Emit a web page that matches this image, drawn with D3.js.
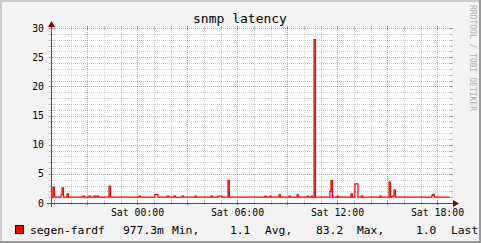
<!DOCTYPE html>
<html>
<head>
<meta charset="utf-8">
<script src="https://cdn.jsdelivr.net/npm/d3@7"></script>
<style>
  html, body { margin: 0; padding: 0; background: #f3f3f3; }
  svg { display: block; }
  text { font-family: "DejaVu Sans Mono", monospace; }
</style>
</head>
<body>
<svg id="chart" width="481" height="243"></svg>
<script>
// step data: value holds from each time until the next one
var stepTimes = [
  "2024-01-05 18:49", "2024-01-05 18:56", "2024-01-05 19:01", "2024-01-05 19:25",
  "2024-01-05 19:29", "2024-01-05 19:34", "2024-01-05 19:47", "2024-01-05 19:52",
  "2024-01-05 20:44", "2024-01-05 20:49", "2024-01-05 21:06", "2024-01-05 21:11",
  "2024-01-05 21:24", "2024-01-05 21:29", "2024-01-05 21:35", "2024-01-05 21:40",
  "2024-01-05 22:18", "2024-01-05 22:23", "2024-01-06 00:06", "2024-01-06 00:11",
  "2024-01-06 01:03", "2024-01-06 01:14", "2024-01-06 01:47", "2024-01-06 01:52",
  "2024-01-06 02:12", "2024-01-06 02:17", "2024-01-06 02:41", "2024-01-06 02:46",
  "2024-01-06 03:27", "2024-01-06 03:32", "2024-01-06 04:25", "2024-01-06 04:30",
  "2024-01-06 04:50", "2024-01-06 05:05", "2024-01-06 05:26", "2024-01-06 05:31",
  "2024-01-06 07:39", "2024-01-06 07:44", "2024-01-06 07:57", "2024-01-06 08:02",
  "2024-01-06 08:30", "2024-01-06 08:35", "2024-01-06 09:06", "2024-01-06 09:11",
  "2024-01-06 09:35", "2024-01-06 09:40", "2024-01-06 10:11", "2024-01-06 10:16",
  "2024-01-06 10:25", "2024-01-06 10:30", "2024-01-06 10:36", "2024-01-06 10:41",
  "2024-01-06 11:33", "2024-01-06 11:37", "2024-01-06 11:42", "2024-01-06 11:59",
  "2024-01-06 12:04", "2024-01-06 12:49", "2024-01-06 12:54", "2024-01-06 13:03",
  "2024-01-06 13:14", "2024-01-06 13:26", "2024-01-06 13:31", "2024-01-06 14:33",
  "2024-01-06 14:38", "2024-01-06 15:06", "2024-01-06 15:11", "2024-01-06 15:17",
  "2024-01-06 15:24", "2024-01-06 15:29", "2024-01-06 17:40", "2024-01-06 17:44",
  "2024-01-06 17:49", "2024-01-06 18:45"
];
var stepValues = [
  1.0, 2.7, 1.0, 1.5,
  2.6, 1.0, 1.55, 1.0,
  1.2, 1.0, 1.2, 1.0,
  1.2, 1.0, 1.2, 1.0,
  2.9, 1.0, 1.2, 1.0,
  1.5, 1.0, 1.2, 1.0,
  1.2, 1.0, 1.2, 1.0,
  1.2, 1.0, 1.2, 1.0,
  1.2, 1.0, 3.9, 1.0,
  1.2, 1.0, 1.2, 1.0,
  1.4, 1.0, 1.2, 1.0,
  1.4, 1.0, 1.2, 1.0,
  1.2, 1.0, 28.0, 1.0,
  2.0, 3.9, 1.0, 1.2,
  1.0, 1.55, 1.0, 3.3,
  1.0, 1.2, 1.0, 1.2,
  1.0, 3.6, 1.0, 1.2,
  2.2, 1.0, 1.3, 1.5,
  1.0, 1.0
];
var timeRange = ["2024-01-05 18:49", "2024-01-06 18:49"];
var valueRange = [0, 30];

var chartTitle = "snmp latency";
var seriesName = "segen-fardf";
var seriesColor = "#ff0000";
var legendParts = [
  { text: seriesName, x: 30 },
  { text: "977.3m", x: 123 },
  { text: "Min,", x: 172 },
  { text: "1.1", x: 230 },
  { text: "Avg,", x: 265 },
  { text: "83.2", x: 316 },
  { text: "Max,", x: 357 },
  { text: "1.0", x: 416 },
  { text: "Last", x: 451 }
];
var watermark = "RRDTOOL / TOBI OETIKER";

(function () {
  var W = 481, H = 243;
  var pLeft = 51, pRight = 451, pTop = 28, pBottom = 203;

  var parse = d3.timeParse("%Y-%m-%d %H:%M");
  var svg = d3.select("#chart");

  var x = d3.scaleTime().domain(timeRange.map(parse)).range([pLeft, pRight]);
  var y = d3.scaleLinear().domain(valueRange).range([pBottom, pTop]);

  // background + rrdtool style frame
  svg.append("rect").attr("width", W).attr("height", H).attr("fill", "#f3f3f3");
  svg.append("path").attr("d", "M0,0H" + W + "V2H2V" + H + "H0Z").attr("fill", "#cbcbcb");
  svg.append("path").attr("d", "M" + W + ",0V" + H + "H0V" + (H - 2) + "H" + (W - 2) + "V0Z").attr("fill", "#999999");

  // canvas
  svg.append("rect")
    .attr("x", pLeft).attr("y", pTop)
    .attr("width", pRight - pLeft).attr("height", pBottom - pTop)
    .attr("fill", "#ffffff");

  var grid = svg.append("g").attr("shape-rendering", "crispEdges");
  var minorCol = "rgba(140,140,140,0.42)", majorCol = "rgba(150,30,30,0.42)";

  // horizontal grid
  var yMinor = y.ticks(30), yMajor = y.ticks(6);
  yMinor.forEach(function (v) {
    var major = yMajor.indexOf(v) >= 0;
    var col = major ? majorCol : minorCol;
    var py = Math.round(y(v)) + 0.5;
    grid.append("line")
      .attr("x1", pLeft - 2).attr("x2", pRight + 2).attr("y1", py).attr("y2", py)
      .attr("stroke", col).attr("stroke-dasharray", "1,1");
    grid.append("line")
      .attr("x1", pLeft - 2).attr("x2", pLeft + 2).attr("y1", py).attr("y2", py)
      .attr("stroke", col);
    grid.append("line")
      .attr("x1", pRight - 2).attr("x2", pRight + 2).attr("y1", py).attr("y2", py)
      .attr("stroke", col);
  });

  // vertical grid
  var xMinor = x.ticks(d3.timeHour.every(1));
  var xMajor = x.ticks(d3.timeHour.every(3)).map(Number);
  xMinor.forEach(function (t) {
    var major = xMajor.indexOf(+t) >= 0;
    var col = major ? majorCol : minorCol;
    var px = Math.round(x(t)) + 0.5;
    grid.append("line")
      .attr("x1", px).attr("x2", px).attr("y1", pTop - 2).attr("y2", pBottom + 2)
      .attr("stroke", col).attr("stroke-dasharray", "1,1");
    grid.append("line")
      .attr("x1", px).attr("x2", px).attr("y1", pBottom - 2).attr("y2", pBottom + 2)
      .attr("stroke", col);
    grid.append("line")
      .attr("x1", px).attr("x2", px).attr("y1", pTop - 2).attr("y2", pTop + 2)
      .attr("stroke", col);
  });

  // y labels
  svg.append("g").selectAll("text")
    .data(yMajor)
    .enter().append("text")
    .attr("x", 44)
    .attr("y", function (d) { return y(d) + 3.5; })
    .attr("text-anchor", "end")
    .attr("font-size", "9.8px")
    .attr("fill", "#000")
    .text(function (d) { return d; });

  // x labels
  var fmt = d3.timeFormat("%a %H:%M");
  svg.append("g").selectAll("text")
    .data(x.ticks(d3.timeHour.every(6)))
    .enter().append("text")
    .attr("x", function (d) { return Math.round(x(d)) + 0.5; })
    .attr("y", 216)
    .attr("text-anchor", "middle")
    .attr("font-size", "9.8px")
    .attr("fill", "#000")
    .text(fmt);

  // data line
  var pts = stepTimes.map(function (s, i) { return [parse(s), stepValues[i]]; });
  var line = d3.line()
    .x(function (d) { return x(d[0]); })
    .y(function (d) { return y(d[1]); })
    .curve(d3.curveStepAfter);
  svg.append("path")
    .datum(pts)
    .attr("d", line)
    .attr("fill", "none")
    .attr("stroke", seriesColor)
    .attr("stroke-width", 1.25);

  // axes with arrows
  var axisCol = "#5a4a4a", arrowCol = "#7f0000";
  svg.append("line")
    .attr("x1", pLeft + 0.5).attr("x2", pLeft + 0.5)
    .attr("y1", pBottom + 4).attr("y2", pTop - 4)
    .attr("stroke", axisCol).attr("shape-rendering", "crispEdges");
  svg.append("line")
    .attr("x1", pLeft - 4).attr("x2", pRight + 4)
    .attr("y1", pBottom + 0.5).attr("y2", pBottom + 0.5)
    .attr("stroke", axisCol).attr("shape-rendering", "crispEdges");
  svg.append("path")
    .attr("d", "M" + (pLeft - 3) + "," + (pTop - 1) + "L" + (pLeft + 0.5) + "," + (pTop - 7) + "L" + (pLeft + 4) + "," + (pTop - 1) + "Z")
    .attr("fill", arrowCol);
  svg.append("path")
    .attr("d", "M" + (pRight + 2) + "," + (pBottom - 3) + "L" + (pRight + 8) + "," + (pBottom + 0.5) + "L" + (pRight + 2) + "," + (pBottom + 4) + "Z")
    .attr("fill", arrowCol);

  // title
  svg.append("text")
    .attr("x", 240).attr("y", 23)
    .attr("text-anchor", "middle")
    .attr("font-size", "13px")
    .attr("fill", "#000")
    .text(chartTitle);

  // watermark
  svg.append("text")
    .attr("transform", "translate(470,5) rotate(90)")
    .attr("font-size", "8px")
    .attr("fill", "#b0b0b0")
    .text(watermark);

  // legend
  svg.append("rect")
    .attr("x", 15.5).attr("y", 225.5).attr("width", 8).attr("height", 8)
    .attr("fill", seriesColor).attr("stroke", "#000");
  svg.append("g").selectAll("text")
    .data(legendParts)
    .enter().append("text")
    .attr("x", function (d) { return d.x; })
    .attr("y", 234)
    .attr("font-size", "11.3px")
    .attr("fill", "#000")
    .text(function (d) { return d.text; });
})();
</script>
</body>
</html>
